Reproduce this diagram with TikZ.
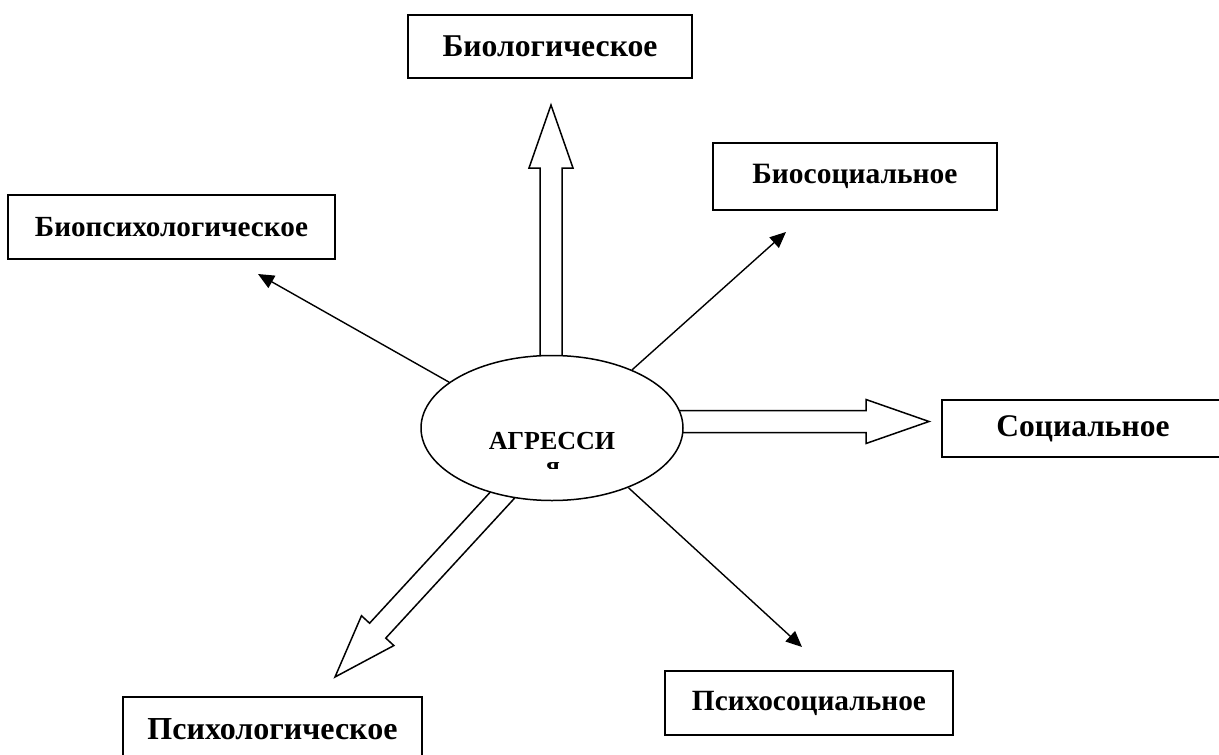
\documentclass[tikz,border=0pt]{standalone}
\usepackage{fontspec}
\setmainfont{Liberation Serif}
\usepackage{graphicx}
\usetikzlibrary{shapes.geometric,arrows.meta,calc}
\pgfdeclarelayer{paper}
\pgfdeclarelayer{back}
\pgfsetlayers{paper,back,main}

% hollow block arrow from #1 to the tip #2
\newcommand{\blockarr}[2]{%
  \coordinate (ba-h) at ($(#2)!63pt!(#1)$);
  \draw[blockarrow]
    ($(#1)!11pt!90:(#2)$) -- ($(ba-h)!11pt!-90:(#1)$) -- ($(ba-h)!22pt!-90:(#1)$)
    -- (#2)
    -- ($(ba-h)!22pt!90:(#1)$) -- ($(ba-h)!11pt!90:(#1)$) -- ($(#1)!11pt!-90:(#2)$) -- cycle;
}

\begin{document}
\begin{tikzpicture}[x=1pt,y=-1pt,
  termbox/.style={draw, line width=1.5pt, rectangle, inner sep=0pt, fill=white},
  thinarrow/.style={line width=1.4pt, -{Triangle[length=16pt,width=14pt]}},
  blockarrow/.style={draw, line width=1.5pt, fill=white, line join=miter},
  centre/.style={draw, ellipse, line width=1.5pt, fill=white, inner sep=0pt,
    minimum width=262pt, minimum height=145pt},
  bigword/.style={font=\bfseries\fontsize{26}{26}\selectfont, inner sep=0pt}]

\clip (0,0) rectangle (1219,755);
\begin{pgfonlayer}{paper}
  \fill[white] (0,0) rectangle (1219,755);
\end{pgfonlayer}

% outer boxes
\node[termbox, minimum width=284pt, minimum height=63pt] (bio) at (550,46.5)
  {\resizebox{215pt}{!}{\bfseries Биологическое}};
\node[termbox, minimum width=284pt, minimum height=67pt] (biosoc) at (855,176.5)
  {\resizebox{205pt}{!}{\bfseries Биосоциальное}};
\node[termbox, minimum width=327pt, minimum height=64pt] (biopsy) at (171.5,227)
  {\resizebox{273pt}{!}{\bfseries Биопсихологическое}};
\node[termbox, minimum width=282pt, minimum height=57pt] (soc) at (1083,428.5)
  {\resizebox{173pt}{!}{\bfseries Социальное}};
\node[termbox, minimum width=288pt, minimum height=64pt] (psysoc) at (809,703)
  {\resizebox{234pt}{!}{\bfseries Психосоциальное}};
\node[termbox, minimum width=299pt, minimum height=64pt] (psy) at (272.5,729)
  {\resizebox{250pt}{!}{\bfseries Психологическое}};

% central ellipse
\node[centre] (ell) at (552,428) {};
\node[bigword, anchor=base] (agr) at (552,449) {АГРЕССИ};
\begin{scope}
  \clip (480,440) rectangle (620,468);
  \node[bigword, anchor=base] (ya) at (553,474.5) {я};
\end{scope}

% arrow tips
\coordinate (tipU) at (551,105);
\coordinate (tipR) at (929,421.5);
\coordinate (tipDL) at (335,677);
\coordinate (tBP) at (258,274);
\coordinate (tBS) at (786,232);
\coordinate (tPS) at (802,647);

% block arrows behind the ellipse
\begin{pgfonlayer}{back}
  \coordinate (sU) at ($(tipU |- ell.north)+(0,6)$);
  \coordinate (sR) at ($(ell.east |- tipR)+(-6,0)$);
  \coordinate (sDL) at ($(ell.-126)!6pt!(ell.center)$);
  \blockarr{sU}{tipU}
  \blockarr{sR}{tipR}
  \blockarr{sDL}{tipDL}
\end{pgfonlayer}

% thin arrows
\draw[thinarrow] (ell.156) -- (tBP);
\draw[thinarrow] (ell.36) -- (tBS);
\draw[thinarrow] (ell.-38) -- (tPS);

\end{tikzpicture}
\end{document}
